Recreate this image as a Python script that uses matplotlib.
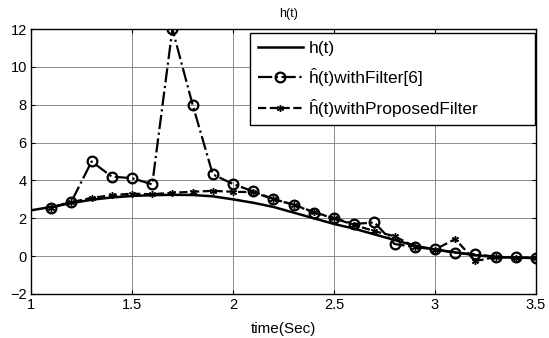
import matplotlib
matplotlib.use("Agg")
import matplotlib.pyplot as plt
import numpy as np

plt.rcParams['font.family'] = ['Liberation Sans', 'DejaVu Sans']

t_true = [1.0, 1.1, 1.2, 1.3, 1.4, 1.5, 1.6, 1.7, 1.8, 1.9, 2.0, 2.1, 2.2, 2.3, 2.4,
          2.5, 2.6, 2.7, 2.8, 2.9, 3.0, 3.1, 3.2, 3.3, 3.4, 3.5]
h_true = [2.42, 2.6, 2.8, 2.98, 3.1, 3.18, 3.22, 3.24, 3.23, 3.16, 3.0, 2.82, 2.6, 2.3, 2.0,
          1.7, 1.45, 1.15, 0.85, 0.55, 0.35, 0.2, 0.05, -0.05, -0.08, -0.1]

t_est = [1.1, 1.2, 1.3, 1.4, 1.5, 1.6, 1.7, 1.8, 1.9, 2.0, 2.1, 2.2, 2.3, 2.4,
         2.5, 2.6, 2.7, 2.8, 2.9, 3.0, 3.1, 3.2, 3.3, 3.4, 3.5]
h_filter6 = [2.56, 2.88, 5.0, 4.2, 4.12, 3.79, 12.0, 8.0, 4.32, 3.81, 3.42, 3.02, 2.72, 2.3,
             2.0, 1.7, 1.78, 0.64, 0.48, 0.36, 0.17, 0.1, -0.03, -0.06, -0.08]
h_proposed = [2.55, 2.85, 3.08, 3.22, 3.3, 3.27, 3.35, 3.4, 3.45, 3.4, 3.38, 3.0, 2.72, 2.33,
              2.0, 1.65, 1.32, 1.05, 0.5, 0.35, 0.9, -0.26, -0.05, -0.08, -0.1]

labels = ['h(t)', 'ĥ(t)withFilter[6]', 'ĥ(t)withProposedFilter']

fig = plt.figure(figsize=(5.49, 3.38), dpi=100)
ax = fig.add_axes([0.0565, 0.1302, 0.9198, 0.784])

ax.plot(t_true, h_true, '-', color='black', lw=1.8, label=labels[0])
ax.plot(t_est, h_filter6, '-.', color='black', lw=1.6, marker='o', ms=7,
        mfc='none', mew=1.6, label=labels[1])
ax.plot(t_est, h_proposed, '--', color='black', lw=1.6, marker=(6, 2, 0), ms=5,
        mew=1.0, label=labels[2])

ax.set_xlim(1, 3.5)
ax.set_ylim(-2, 12)
ax.set_xticks([1, 1.5, 2, 2.5, 3, 3.5])
ax.set_xticklabels(['1', '1.5', '2', '2.5', '3', '3.5'])
ax.set_yticks([-2, 0, 2, 4, 6, 8, 10, 12])
ax.grid(True, color='#8a8a8a', lw=0.7, ls='-')
ax.tick_params(direction='in', length=3, top=True, right=True, labelsize=10.5, pad=3)
for s in ax.spines.values():
    s.set_linewidth(1.0)

ax.set_title('h(t)', fontsize=9, pad=9, x=0.51)
ax.set_xlabel('time(Sec)', fontsize=11, labelpad=7)

leg = ax.legend(loc='upper left', bbox_to_anchor=(0.4337, 0.638, 0.564, 0.347),
                mode='expand', fontsize=12.5, handlelength=2.6, handletextpad=0.35,
                borderaxespad=0.0, labelspacing=0.72, fancybox=False, framealpha=1,
                edgecolor='black', borderpad=0.45)
leg.get_frame().set_linewidth(1.0)

fig.savefig('out.png', dpi=100)
